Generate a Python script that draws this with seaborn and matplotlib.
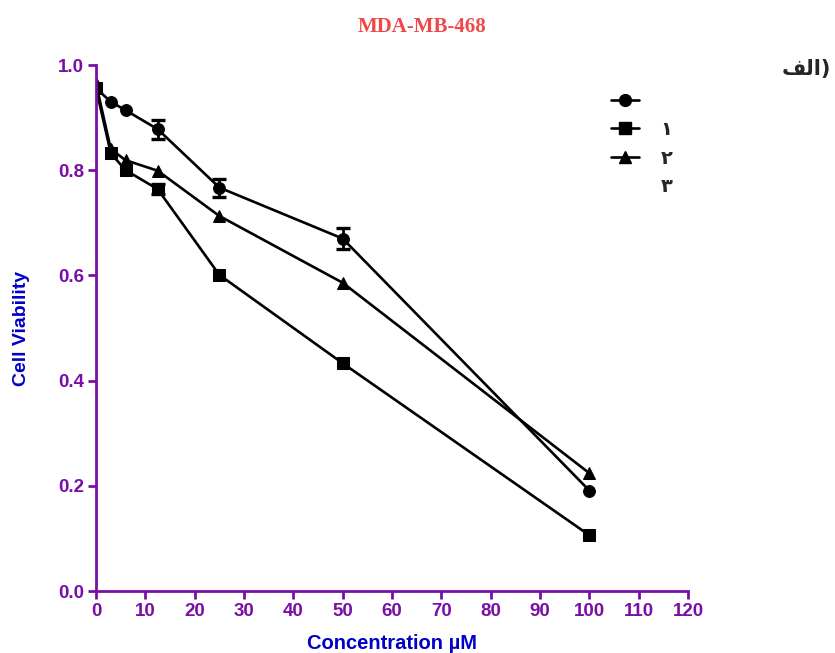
import pandas as pd
import matplotlib.pyplot as plt
from matplotlib.lines import Line2D
import seaborn as sns

# values
conc = [0, 3, 6, 12.5, 25, 50, 100]
viab_1 = [0.956, 0.930, 0.914, 0.878, 0.767, 0.670, 0.191]
viab_2 = [0.956, 0.832, 0.800, 0.764, 0.601, 0.433, 0.106]
viab_3 = [0.965, 0.840, 0.819, 0.799, 0.713, 0.586, 0.224]
err_1 = [0, 0, 0, 0.018, 0.017, 0.020, 0]
err_2 = [0, 0, 0, 0.010, 0, 0, 0]
err_3 = [0, 0, 0, 0, 0, 0, 0]

series_names = ['s1', 's2', 's3']
legend_labels = ['', '\u0661', '\u0662', '\u0663']
x_ticks = list(range(0, 130, 10))
y_ticks = [0.0, 0.2, 0.4, 0.6, 0.8, 1.0]

purple = '#7a0fa6'
blue = '#0000c8'

df = pd.DataFrame({
    'conc': conc * 3,
    'viab': viab_1 + viab_2 + viab_3,
    'err': err_1 + err_2 + err_3,
    'series': [s for s in series_names for _ in conc],
})

sns.set_style("ticks")
plt.rcParams['font.family'] = ['Liberation Sans', 'DejaVu Sans']

fig = plt.figure(figsize=(8.35, 6.53), dpi=100)
ax = fig.add_axes([96 / 835, 62 / 653, 592 / 835, 526 / 653])

markers = {'s1': 'o', 's2': 's', 's3': '^'}
sns.lineplot(data=df, x='conc', y='viab', style='series', markers=markers,
             dashes=False, color='black', linewidth=1.9, markersize=8.5,
             markeredgecolor='black', legend=False, ax=ax)

# error bars
for name in series_names:
    sub = df[(df['series'] == name) & (df['err'] > 0)]
    ax.errorbar(sub['conc'], sub['viab'], yerr=sub['err'], fmt='none',
                ecolor='black', elinewidth=2, capsize=5, capthick=2.4)

ax.set_xlim(0, 120)
ax.set_ylim(0, 1.0)
ax.set_xticks(x_ticks)
ax.set_yticks(y_ticks)
ax.set_yticklabels([f'{v:.1f}' for v in y_ticks])
sns.despine(ax=ax)
for side in ['left', 'bottom']:
    ax.spines[side].set_color(purple)
    ax.spines[side].set_linewidth(2)
ax.tick_params(colors=purple, width=2, length=5.5, labelsize=13.5, pad=3)
for lbl in ax.get_xticklabels() + ax.get_yticklabels():
    lbl.set_fontweight('bold')
    lbl.set_color(purple)

ax.set_xlabel('Concentration \u00b5M', color=blue, fontsize=14.5, fontweight='bold', labelpad=10)
ax.set_ylabel('Cell Viability', color=blue, fontsize=14, fontweight='bold', labelpad=20)

fig.text(0.505, 0.958, 'MDA-MB-468', color='#f04848', fontsize=15, fontweight='bold',
         family='Liberation Serif', ha='center', va='center')
fig.text(0.995, 0.895, '\ufed2\ufedf\ufe8d)', fontsize=15, fontweight='bold',
         family='DejaVu Sans', ha='right', va='center')

handles = [
    Line2D([], [], color='black', marker='o', markersize=8.5, linewidth=1.9),
    Line2D([], [], color='black', marker='s', markersize=8.5, linewidth=1.9),
    Line2D([], [], color='black', marker='^', markersize=8.5, linewidth=1.9),
    Line2D([], [], color='none'),
]
leg = fig.legend(handles, legend_labels, loc='upper left', bbox_to_anchor=(0.711, 0.886),
                 frameon=False, handlelength=1.45, handletextpad=1.1, labelspacing=0.48,
                 prop={'family': 'DejaVu Sans', 'weight': 'bold', 'size': 14})

fig.savefig('out.png', dpi=100)
